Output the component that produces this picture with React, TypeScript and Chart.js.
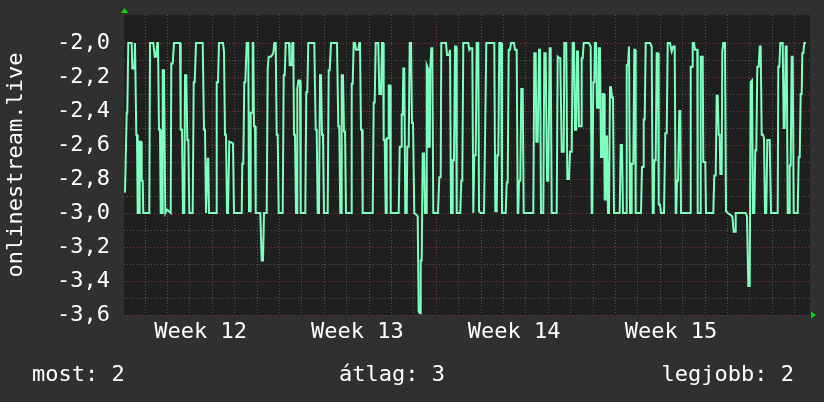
import React, { useEffect, useRef } from 'react';
import { Chart, registerables } from 'chart.js';

Chart.register(...registerables);

// Time axis in consolidated samples (one sample ≈ 64 min, 22.4 samples per day)
const sampleTimes: number[] = [
  1.0,2.7,3.3,4.3,7.7,8.3,10.3,11.0,11.7,12.3,13.0,13.7,15.0,15.7,17.0,17.7,18.7,19.3,25.3,26.0,29.3,30.7,32.0,33.3,34.0,35.0,36.0,36.7,38.0,38.7,40.0,41.3,43.0,46.7,47.3,48.7,50.0,56.0,56.7,58.0,59.0,60.3,61.0,62.3,63.3,64.3,65.3,68.7,69.7,70.7,72.0,78.7,80.0,81.0,82.0,82.7,83.7,84.3,85.0,92.0,92.7,94.0,95.0,99.0,100.0,101.0,102.0,103.0,104.0,105.3,109.0,110.0,
  111.0,117.7,118.3,119.3,120.3,121.3,122.7,124.3,125.0,126.0,126.7,128.3,128.7,129.3,130.0,131.0,131.7,136.3,137.7,139.0,140.0,142.7,143.7,144.7,147.0,149.3,150.3,151.7,152.7,153.7,154.7,158.7,159.7,160.7,161.7,165.0,165.7,167.7,168.3,169.3,170.0,171.0,172.0,173.0,173.3,174.3,176.0,176.7,181.3,182.3,183.3,184.3,190.3,191.7,192.7,193.7,195.0,196.0,197.0,198.0,199.0,200.0,203.7,204.7,205.7,207.0,213.0,214.3,215.3,216.3,217.0,217.7,219.0,220.0,221.0,222.0,226.0,
  227.0,227.7,228.7,229.7,231.0,232.0,234.3,235.3,236.0,237.0,238.0,238.7,248.7,249.7,250.7,251.7,254.3,255.3,257.0,258.0,259.0,259.7,260.7,261.7,262.3,262.7,264.0,264.7,266.0,266.7,274.7,275.7,277.0,277.7,278.7,279.3,280.3,281.3,282.7,283.3,284.7,285.7,287.0,288.0,289.0,290.3,292.3,293.7,294.7,296.0,296.7,297.7,298.7,300.0,301.0,302.0,302.7,304.0,304.7,305.7,306.3,307.3,308.3,309.3,314.0,315.3,316.7,317.3,322.0,323.0,325.0,326.0,327.0,328.0,328.7,330.0,331.0,332.0,332.7,336.3,337.3,338.3,339.3,
  341.0,344.3,345.3,346.7,348.3,349.3,350.3,351.7,352.7,354.3,355.0,356.7,360.0,361.0,361.7,362.3,370.3,371.3,372.7,373.3,374.3,375.3,377.0,378.0,381.7,382.7,383.7,384.7,386.0,387.0,390.0,391.0,392.7,393.7,394.3,395.0,396.3,397.3,398.7,399.7,409.3,410.3,411.7,412.3,413.7,415.0,416.0,417.0,419.3,420.3,421.7,423.0,424.3,425.7,426.7,427.7,432.7,433.7,435.7,436.3,437.7,439.7,440.3,442.3,443.3,445.0,446.0,447.7,448.7,450.0,451.0,452.3,453.0,454.0,455.0,
  457.0,457.7,458.7,459.7,465.0,466.7,467.7,468.3,469.3,470.3,471.0,472.0,473.0,474.0,474.7,476.0,477.0,478.0,478.7,480.0,480.7,481.3,481.7,483.0,484.0,485.0,486.0,487.0,488.0,489.0,490.0,495.7,496.7,498.0,499.0,502.0,502.7,504.0,505.0,505.7,506.0,507.0,507.7,509.3,510.3,511.0,511.7,517.0,518.0,519.0,519.7,520.7,521.7,526.0,527.7,528.7,529.7,530.3,531.7,532.7,534.0,534.7,536.0,537.0,540.0,541.3,542.7,543.7,546.0,547.7,549.3,550.7,551.7,552.3,553.0,554.0,555.3,556.3,557.0,566.0,566.7,568.0,568.7,570.0,
  571.0,573.3,573.7,576.3,576.7,578.7,579.3,581.3,582.0,589.3,590.3,591.7,592.7,593.7,594.7,595.7,596.3,597.7,598.3,599.3,601.0,602.0,603.7,606.3,608.3,609.7,611.0,611.7,621.7,623.0,624.3,625.7,626.7,628.0,629.0,630.3,631.3,632.3,633.3,634.7,635.7,636.7,637.7,639.0,640.0,641.0,642.3,643.3,645.7,647.0,653.7,654.3,655.3,656.3,658.7,659.7,660.7,661.7,662.7,663.7,665.0,665.7,666.7,667.7,668.7,669.7,673.7,674.7,675.7,676.7,677.7,678.3,679.3,680.3,682.0,
];

const onlineValues: number[] = [
  -2.88,-2.41,-2.41,-2.0,-2.0,-2.15,-2.15,-2.0,-2.0,-2.54,-2.54,-3.0,-3.0,-2.58,-2.58,-2.81,-2.81,-3.0,-3.0,-2.0,-2.0,-2.08,-2.08,-2.0,-2.0,-2.51,-2.51,-3.0,-3.0,-2.16,-2.16,-3.0,-2.98,-3.0,-2.12,-2.12,-2.0,-2.0,-2.51,-2.51,-3.0,-3.0,-2.19,-2.19,-2.57,-2.57,-3.0,-3.0,-2.23,-2.23,-2.0,-2.0,-2.51,-2.51,-3.0,-3.0,-2.68,-2.68,-3.0,-3.0,-2.23,-2.23,-2.0,-2.0,-2.05,-2.54,-2.54,-3.0,-3.0,-2.58,-2.59,-3.0,
  -3.0,-3.0,-2.71,-2.71,-2.23,-2.23,-2.0,-2.0,-2.99,-2.99,-2.41,-2.41,-2.0,-2.0,-2.49,-2.49,-3.0,-3.0,-3.28,-3.28,-3.0,-3.0,-2.15,-2.08,-2.08,-2.06,-2.0,-2.0,-2.54,-2.54,-3.0,-3.0,-2.19,-2.19,-2.0,-2.0,-2.13,-2.13,-2.0,-2.0,-2.54,-2.54,-3.0,-3.0,-2.27,-2.22,-2.22,-3.0,-3.0,-2.29,-2.29,-2.0,-2.0,-2.51,-2.51,-3.0,-3.0,-2.19,-2.19,-2.54,-2.54,-3.0,-3.0,-2.16,-2.16,-2.0,-2.0,-2.49,-2.49,-3.0,-3.0,-2.19,-2.19,-2.52,-2.52,-3.0,-3.0,
  -3.0,-2.24,-2.24,-2.0,-2.0,-2.04,-2.04,-2.0,-2.0,-2.51,-2.51,-3.0,-3.0,-2.35,-2.35,-2.0,-2.0,-2.30,-2.30,-2.0,-2.0,-2.57,-2.57,-3.0,-3.0,-2.56,-2.56,-2.25,-2.25,-3.0,-3.0,-2.61,-2.61,-2.42,-2.42,-2.15,-2.15,-3.0,-3.0,-2.61,-2.61,-2.0,-2.0,-2.47,-2.47,-3.0,-3.01,-3.02,-3.58,-3.59,-3.28,-3.28,-2.65,-2.65,-3.0,-3.0,-2.13,-2.15,-2.61,-2.61,-2.15,-2.03,-2.03,-3.0,-3.0,-2.79,-2.79,-2.0,-2.0,-2.07,-2.07,-2.04,-3.0,-3.0,-2.69,-2.69,-2.02,-2.02,-3.0,-3.0,-2.81,-2.81,-2.0,
  -2.0,-2.0,-2.04,-2.03,-2.03,-3.0,-2.66,-2.66,-2.0,-2.0,-2.99,-3.0,-3.0,-2.59,-2.59,-2.0,-2.0,-2.99,-2.99,-2.66,-2.66,-2.0,-2.0,-3.0,-3.0,-2.82,-2.82,-2.04,-2.04,-2.0,-2.0,-2.04,-2.04,-3.0,-3.0,-2.81,-2.81,-2.27,-2.27,-3.0,-3.0,-2.06,-2.06,-2.58,-2.58,-2.04,-2.04,-3.0,-3.0,-2.06,-2.06,-2.81,-2.81,-2.03,-2.03,-3.0,-3.0,-2.08,-2.09,-2.09,-2.64,-2.64,-2.0,-2.0,-2.80,-2.80,-2.64,-2.64,-2.0,-2.0,-2.51,-2.51,-2.05,-2.05,-2.49,
  -2.49,-2.09,-2.09,-2.0,-2.0,-2.02,-3.0,-3.0,-2.23,-2.23,-2.0,-2.0,-2.38,-2.38,-2.03,-2.03,-2.67,-2.67,-2.30,-2.30,-2.92,-2.92,-2.55,-2.55,-3.0,-3.0,-2.26,-2.26,-2.32,-2.32,-3.0,-3.0,-2.60,-2.60,-3.0,-3.0,-2.13,-2.13,-2.02,-2.02,-3.0,-3.0,-2.71,-2.71,-2.04,-2.04,-3.0,-3.0,-2.73,-2.73,-2.45,-2.45,-2.0,-2.0,-2.02,-3.0,-3.0,-2.69,-2.69,-2.06,-2.06,-2.95,-2.95,-3.0,-3.0,-2.53,-2.53,-2.0,-2.0,-2.05,-2.02,-2.02,-3.0,-3.0,-2.81,-2.81,-2.40,-2.40,-3.0,-3.0,-2.14,-2.14,-2.0,-2.0,
  -2.04,-2.04,-3.0,-3.0,-2.08,-2.08,-2.70,-2.70,-3.0,-3.0,-2.78,-2.78,-2.31,-2.31,-2.54,-2.54,-2.77,-2.77,-2.05,-2.0,-2.0,-2.99,-3.0,-3.01,-3.02,-3.11,-3.11,-3.0,-3.0,-3.02,-3.43,-3.43,-2.23,-2.22,-3.0,-3.0,-2.63,-2.63,-2.14,-2.14,-2.02,-2.02,-2.54,-2.54,-2.56,-3.0,-3.0,-2.57,-2.57,-3.0,-3.0,-2.14,-2.14,-2.0,-2.0,-2.50,-2.50,-2.02,-2.02,-3.0,-3.0,-2.72,-2.72,-2.08,-2.08,-3.0,-3.0,-2.67,-2.67,-2.30,-2.30,-2.06,-2.06,-2.0,-2.0,
];

const X_MIN = 0;
const X_MAX = 686;
const SAMPLES_PER_DAY = 22.4;
const weekStarts: number[] = [-1.8, 155, 311.8, 468.6, 625.4];
const weekLabels: string[] = ['Week 12', 'Week 13', 'Week 14', 'Week 15'];
const yTickValues: number[] = [-3.6, -3.5, -3.4, -3.3, -3.2, -3.1, -3.0, -2.9, -2.8, -2.7, -2.6, -2.5, -2.4, -2.3, -2.2, -2.1, -2.0];
const Y_MIN = -3.6;
const Y_MAX = -1.835;
const yTitle = 'onlinestream.live';
const legendTexts: string[] = ['most: 2', 'átlag: 3', 'legjobb: 2'];

const FONT = '"DejaVu Sans Mono", monospace';
const OUTER_BG = '#303030';
const PLOT_BG = '#1f1f1f';
const LINE_COLOR = '#7fffbf';
const GRID_MINOR = '#555555';
const GRID_MAJOR = '#803535';
const ARROW = '#00dd00';

const isMajor = (v: number) => Math.abs(Math.round(v * 10)) % 2 === 0;

const decorPlugin = {
  id: 'rrdDecor',
  beforeDraw(chart: any) {
    const { ctx, chartArea } = chart;
    ctx.save();
    ctx.fillStyle = OUTER_BG;
    ctx.fillRect(0, 0, chart.width, chart.height);
    ctx.fillStyle = PLOT_BG;
    ctx.fillRect(chartArea.left, chartArea.top, chartArea.right - chartArea.left, chartArea.bottom - chartArea.top);
    ctx.restore();
  },
  beforeDatasetsDraw(chart: any) {
    const { ctx, chartArea } = chart;
    const xs = chart.scales.x;
    const ys = chart.scales.y;
    ctx.save();
    ctx.lineWidth = 1;
    ctx.setLineDash([1, 2]);
    yTickValues.forEach((v) => {
      const y = Math.round(ys.getPixelForValue(v)) + 0.5;
      ctx.strokeStyle = isMajor(v) ? GRID_MAJOR : GRID_MINOR;
      ctx.beginPath();
      ctx.moveTo(chartArea.left, y);
      ctx.lineTo(chartArea.right, y);
      ctx.stroke();
    });
    for (let i = 0; i < 40; i++) {
      const t = weekStarts[0] + i * SAMPLES_PER_DAY;
      if (t <= X_MIN || t >= X_MAX) continue;
      const x = Math.round(xs.getPixelForValue(t)) + 0.5;
      ctx.strokeStyle = i % 7 === 0 ? GRID_MAJOR : GRID_MINOR;
      ctx.beginPath();
      ctx.moveTo(x, chartArea.top);
      ctx.lineTo(x, chartArea.bottom);
      ctx.stroke();
    }
    ctx.restore();
  },
  afterDraw(chart: any) {
    const { ctx, chartArea } = chart;
    ctx.save();
    ctx.fillStyle = ARROW;
    ctx.beginPath();
    ctx.moveTo(chartArea.left - 3, 13);
    ctx.lineTo(chartArea.left + 4, 13);
    ctx.lineTo(chartArea.left + 0.5, 8);
    ctx.closePath();
    ctx.fill();
    ctx.beginPath();
    ctx.moveTo(chartArea.right + 1, chartArea.bottom - 3.5);
    ctx.lineTo(chartArea.right + 1, chartArea.bottom + 3.5);
    ctx.lineTo(chartArea.right + 6, chartArea.bottom);
    ctx.closePath();
    ctx.fill();
    ctx.fillStyle = '#ffffff';
    ctx.font = `22px ${FONT}`;
    ctx.textBaseline = 'alphabetic';
    ctx.save();
    ctx.translate(22, (chartArea.top + chartArea.bottom) / 2);
    ctx.rotate(-Math.PI / 2);
    ctx.textAlign = 'center';
    ctx.fillText(yTitle, 0, 0);
    ctx.restore();
    const baseY = 381;
    ctx.textAlign = 'left';
    ctx.fillText(legendTexts[0], 32, baseY);
    ctx.textAlign = 'center';
    ctx.fillText(legendTexts[1], 392, baseY);
    ctx.textAlign = 'right';
    ctx.fillText(legendTexts[2], 794, baseY);
    ctx.restore();
  },
};

export default function App() {
  const canvasRef = useRef<HTMLCanvasElement | null>(null);

  useEffect(() => {
    document.body.style.margin = '0';
    const canvas = canvasRef.current;
    if (!canvas) return;
    const points = sampleTimes.map((t, i) => ({ x: t, y: onlineValues[i] }));
    const weekCenters = weekLabels.map((_, i) => (weekStarts[i] + weekStarts[i + 1]) / 2);

    const chart = new Chart(canvas, {
      type: 'line',
      data: {
        datasets: [
          {
            label: yTitle,
            data: points,
            borderColor: LINE_COLOR,
            borderWidth: 2,
            pointRadius: 0,
            tension: 0,
            fill: false,
          },
        ],
      },
      options: {
        responsive: false,
        animation: false,
        devicePixelRatio: 1,
        layout: { padding: { left: 0, top: 15, right: 14, bottom: 47 } },
        plugins: { legend: { display: false }, tooltip: { enabled: false } },
        scales: {
          x: {
            type: 'linear',
            min: X_MIN,
            max: X_MAX,
            grid: { display: false, drawTicks: false },
            border: { display: false },
            afterBuildTicks: (s: any) => {
              s.ticks = weekCenters.map((value) => ({ value }));
            },
            afterFit: (s: any) => {
              s.height = 40;
              s.paddingLeft = 0;
              s.paddingRight = 0;
              s.paddingTop = 0;
              s.paddingBottom = 0;
            },
            ticks: {
              autoSkip: false,
              maxRotation: 0,
              minRotation: 0,
              color: '#ffffff',
              padding: 4,
              font: { family: FONT, size: 22 },
              callback: (_v: any, i: number) => weekLabels[i],
            },
          },
          y: {
            type: 'linear',
            min: Y_MIN,
            max: Y_MAX,
            grid: { display: false, drawTicks: false },
            border: { display: false },
            afterBuildTicks: (s: any) => {
              s.ticks = yTickValues.map((value) => ({ value }));
            },
            afterFit: (s: any) => {
              s.width = 124;
              s.paddingTop = 0;
              s.paddingBottom = 0;
              s.paddingLeft = 0;
              s.paddingRight = 0;
            },
            ticks: {
              autoSkip: false,
              color: '#ffffff',
              padding: 14,
              font: { family: FONT, size: 22 },
              callback: (v: any) => (isMajor(Number(v)) ? Number(v).toFixed(1).replace('.', ',') : ''),
            },
          },
        },
      },
      plugins: [decorPlugin],
    });
    return () => chart.destroy();
  }, []);

  return (
    <div style={{ width: 824, height: 402 }}>
      <canvas ref={canvasRef} width={824} height={402} style={{ display: 'block', width: 824, height: 402 }} />
    </div>
  );
}
